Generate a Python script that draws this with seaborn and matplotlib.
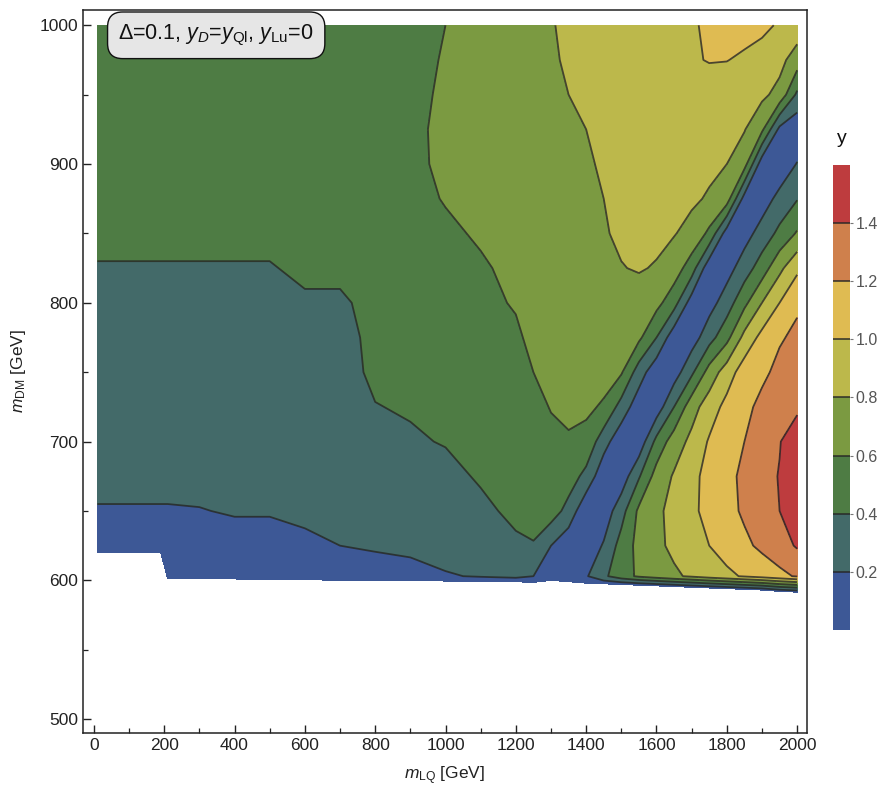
import numpy as np
import matplotlib
matplotlib.use("Agg")
import matplotlib.pyplot as plt
import seaborn as sns

# ---------------- data ----------------
m_lq = [10, 100, 190, 210, 300, 400, 500, 600, 700, 800, 900, 1000, 1100,
        1200, 1250, 1300, 1350, 1400, 1450, 1500, 1550, 1600, 1650, 1700,
        1750, 1800, 1850, 1900, 1950, 2000]

# lower edge of the computed region (per m_LQ column) and the first row above it
dm_floor = [620, 620, 620, 601, 601, 601, 600.5, 600.5, 600, 600, 600, 599.5, 599,
            599, 598.5, 600, 599, 598, 597.5, 597, 596.5, 596, 595.5, 595,
            594.5, 594, 593.5, 593, 592, 591.5]
dm_second = [622, 622, 622, 603, 603, 603, 603, 603, 603, 603, 603, 603, 603,
             603, 603, 603, 603, 603, 603, 603, 603, 603, 603, 603,
             603, 603, 603, 603, 603, 603]
dm_rows = [625, 650, 675, 700, 725, 750, 775, 800, 825, 850, 875, 900, 925, 950, 975, 1000]

y_floor = [0.12, 0.12, 0.12, 0.12, 0.12, 0.12, 0.12, 0.12, 0.12, 0.12, 0.12, 0.12, 0.12,
           0.10, 0.08, 0.05, 0.04, 0.05, 0.08, 0.08, 0.08, 0.08, 0.08, 0.08, 0.08, 0.08, 0.08, 0.08, 0.08, 0.08]
y_second = [0.12, 0.12, 0.12, 0.12, 0.12, 0.12, 0.12, 0.13, 0.13, 0.14, 0.16, 0.19, 0.21,
            0.24, 0.20, 0.12, 0.08, 0.18, 0.36, 0.52, 0.63, 0.70, 0.77, 0.83, 0.90, 0.96, 1.02, 1.08, 1.15, 1.22]
y_625 = [0.13, 0.13, 0.13, 0.13, 0.14, 0.15, 0.15, 0.175, 0.20, 0.215, 0.225, 0.25, 0.28,
         0.37, 0.39, 0.20, 0.06, 0.06, 0.22, 0.48, 0.66, 0.76, 0.84, 0.92, 1.00, 1.08, 1.16, 1.24, 1.32, 1.42]
y_650 = [0.19, 0.19, 0.19, 0.19, 0.195, 0.21, 0.21, 0.225, 0.24, 0.26, 0.28, 0.30, 0.36,
         0.44, 0.46, 0.50, 0.33, 0.04, 0.08, 0.32, 0.64, 0.76, 0.86, 0.96, 1.06, 1.14, 1.23, 1.32, 1.40, 1.48]
y_675 = [0.24, 0.24, 0.24, 0.24, 0.24, 0.24, 0.24, 0.26, 0.27, 0.30, 0.33, 0.35, 0.42,
         0.48, 0.50, 0.52, 0.50, 0.34, 0.06, 0.08, 0.38, 0.68, 0.82, 0.95, 1.06, 1.15, 1.24, 1.33, 1.41, 1.53]
y_700 = [0.26, 0.26, 0.26, 0.26, 0.26, 0.26, 0.26, 0.28, 0.30, 0.34, 0.38, 0.41, 0.46,
         0.51, 0.54, 0.575, 0.58, 0.55, 0.28, 0.06, 0.06, 0.46, 0.70, 0.85, 1.02, 1.12, 1.20, 1.30, 1.39, 1.53]
y_725 = [0.28, 0.28, 0.28, 0.28, 0.28, 0.28, 0.28, 0.30, 0.32, 0.395, 0.415, 0.46, 0.49,
         0.54, 0.57, 0.605, 0.64, 0.63, 0.58, 0.32, 0.08, 0.08, 0.40, 0.72, 0.90, 1.06, 1.15, 1.25, 1.31, 1.36]
y_750 = [0.30, 0.30, 0.30, 0.30, 0.30, 0.30, 0.30, 0.32, 0.34, 0.43, 0.44, 0.49, 0.52,
         0.56, 0.60, 0.63, 0.67, 0.68, 0.66, 0.62, 0.30, 0.06, 0.10, 0.36, 0.68, 0.90, 1.10, 1.16, 1.25, 1.32]
y_775 = [0.32, 0.32, 0.32, 0.32, 0.32, 0.32, 0.32, 0.34, 0.36, 0.43, 0.47, 0.52, 0.55,
         0.58, 0.63, 0.66, 0.70, 0.72, 0.73, 0.71, 0.64, 0.40, 0.07, 0.10, 0.32, 0.54, 0.86, 1.06, 1.18, 1.24]
y_800 = [0.34, 0.34, 0.34, 0.34, 0.34, 0.34, 0.34, 0.38, 0.38, 0.44, 0.49, 0.54, 0.57,
         0.61, 0.65, 0.68, 0.72, 0.74, 0.76, 0.77, 0.74, 0.66, 0.48, 0.10, 0.12, 0.30, 0.55, 0.80, 1.00, 1.17]
y_825 = [0.39, 0.39, 0.39, 0.39, 0.39, 0.39, 0.39, 0.43, 0.43, 0.45, 0.51, 0.56, 0.58,
         0.64, 0.67, 0.70, 0.74, 0.76, 0.78, 0.795, 0.81, 0.79, 0.70, 0.50, 0.06, 0.12, 0.30, 0.50, 0.75, 0.96]
y_850 = [0.44, 0.44, 0.44, 0.44, 0.44, 0.44, 0.44, 0.45, 0.45, 0.47, 0.53, 0.57, 0.62,
         0.67, 0.69, 0.72, 0.75, 0.77, 0.79, 0.82, 0.84, 0.83, 0.81, 0.74, 0.56, 0.10, 0.12, 0.28, 0.45, 0.62]
y_875 = [0.46, 0.46, 0.46, 0.46, 0.46, 0.46, 0.46, 0.46, 0.46, 0.48, 0.55, 0.61, 0.66,
         0.69, 0.71, 0.74, 0.76, 0.78, 0.80, 0.83, 0.85, 0.86, 0.85, 0.83, 0.78, 0.70, 0.12, 0.10, 0.26, 0.39]
y_900 = [0.47, 0.47, 0.47, 0.47, 0.47, 0.47, 0.47, 0.47, 0.47, 0.50, 0.565, 0.63, 0.68,
         0.71, 0.73, 0.75, 0.77, 0.79, 0.81, 0.84, 0.86, 0.87, 0.87, 0.86, 0.84, 0.80, 0.68, 0.08, 0.06, 0.21]
y_925 = [0.48, 0.48, 0.48, 0.48, 0.48, 0.48, 0.48, 0.48, 0.48, 0.51, 0.57, 0.63, 0.70,
         0.72, 0.74, 0.76, 0.78, 0.80, 0.82, 0.85, 0.87, 0.88, 0.88, 0.88, 0.87, 0.85, 0.81, 0.64, 0.15, 0.05]
y_950 = [0.49, 0.49, 0.49, 0.49, 0.49, 0.49, 0.49, 0.49, 0.49, 0.51, 0.565, 0.62, 0.71,
         0.74, 0.76, 0.77, 0.80, 0.82, 0.84, 0.86, 0.88, 0.89, 0.90, 0.90, 0.90, 0.89, 0.87, 0.84, 0.74, 0.36]
y_975 = [0.50, 0.50, 0.50, 0.50, 0.50, 0.50, 0.50, 0.50, 0.50, 0.51, 0.56, 0.61, 0.72,
         0.75, 0.77, 0.78, 0.82, 0.84, 0.86, 0.88, 0.90, 0.92, 0.95, 0.98, 1.01, 1.005, 0.97, 0.93, 0.86, 0.70]
y_1000 = [0.51, 0.51, 0.51, 0.50, 0.50, 0.50, 0.50, 0.50, 0.50, 0.51, 0.55, 0.60, 0.72,
          0.76, 0.78, 0.79, 0.83, 0.85, 0.87, 0.89, 0.91, 0.93, 0.95, 0.98, 1.03, 1.06, 1.07, 1.04, 0.98, 0.92]

levels = [0.0, 0.2, 0.4, 0.6, 0.8, 1.0, 1.2, 1.4, 1.6]
band_colors = ["#3d5896", "#436a69", "#4e7c44", "#7b9a41",
               "#bcb84b", "#dfbb52", "#cf804c", "#be3c3e"]
cbar_ticks = [0.2, 0.4, 0.6, 0.8, 1.0, 1.2, 1.4]

# ---------------- assemble grid ----------------
X = np.tile(np.array(m_lq, dtype=float), (len(dm_rows) + 2, 1))
Y = np.vstack([dm_floor, dm_second] + [[r] * len(m_lq) for r in dm_rows]).astype(float)
Z = np.array([y_floor, y_second, y_625, y_650, y_675, y_700, y_725, y_750, y_775,
              y_800, y_825, y_850, y_875, y_900, y_925, y_950, y_975, y_1000])

# ---------------- style ----------------
sns.set_theme(style="white")
plt.rcParams["font.family"] = ["Liberation Sans", "DejaVu Sans"]
plt.rcParams["mathtext.fontset"] = "custom"
plt.rcParams["mathtext.rm"] = "Liberation Sans"
plt.rcParams["mathtext.it"] = "Liberation Sans:italic"
plt.rcParams["mathtext.bf"] = "Liberation Sans:bold"

fig = plt.figure(figsize=(8.81, 7.87), dpi=100)
ax = fig.add_axes([0.0942, 0.0686, 0.8218, 0.9187])

pal = sns.color_palette(band_colors)
cf = ax.contourf(X, Y, Z, levels=levels, colors=pal)
cs = ax.contour(X, Y, Z, levels=levels[1:-1], colors="#262626",
                linewidths=1.3, alpha=0.8)

ax.set_xlim(-31, 2028)
ax.set_ylim(490, 1011)
ax.set_xticks(np.arange(0, 2001, 200))
ax.set_xticks(np.arange(100, 2001, 200), minor=True)
ax.set_yticks(np.arange(500, 1001, 100))
ax.set_yticks(np.arange(550, 1001, 100), minor=True)
ax.tick_params(which="both", direction="in", top=False, right=False,
               bottom=True, left=True, colors="#222222", labelsize=12.5)
ax.tick_params(which="major", length=6, width=1)
ax.tick_params(which="minor", length=3.5, width=0.9)
for s in ax.spines.values():
    s.set_color("#222222")
    s.set_linewidth(1.1)

ax.set_xlabel(r"$m_{\rm LQ}$ [GeV]", fontsize=12.5, color="#222222", labelpad=8)
ax.set_ylabel(r"$m_{\rm DM}$ [GeV]", fontsize=12.5, color="#222222", labelpad=8)

ax.text(0.184, 0.965, r"Δ=0.1, $y_D$=$y_{\rm Ql}$, $y_{\rm Lu}$=0",
        transform=ax.transAxes, ha="center", va="center", fontsize=15.5,
        color="#111111",
        bbox=dict(boxstyle="round,pad=0.5,rounding_size=0.7",
                  fc="#e6e6e6", ec="#111111", lw=1.0))

# ---------------- colorbar ----------------
cax = fig.add_axes([0.9455, 0.1995, 0.0193, 0.5909])
cb = fig.colorbar(cf, cax=cax, ticks=cbar_ticks, format="%.1f")
cb.outline.set_visible(False)
cb.add_lines(cs)
cb.ax.tick_params(labelsize=11.5, colors="#777777", length=2, width=0.8, pad=2,
                  labelcolor="#555555", direction="out")
cax.set_title("y", fontsize=14, pad=16, color="#111111")

fig.savefig("out.png", dpi=100)
